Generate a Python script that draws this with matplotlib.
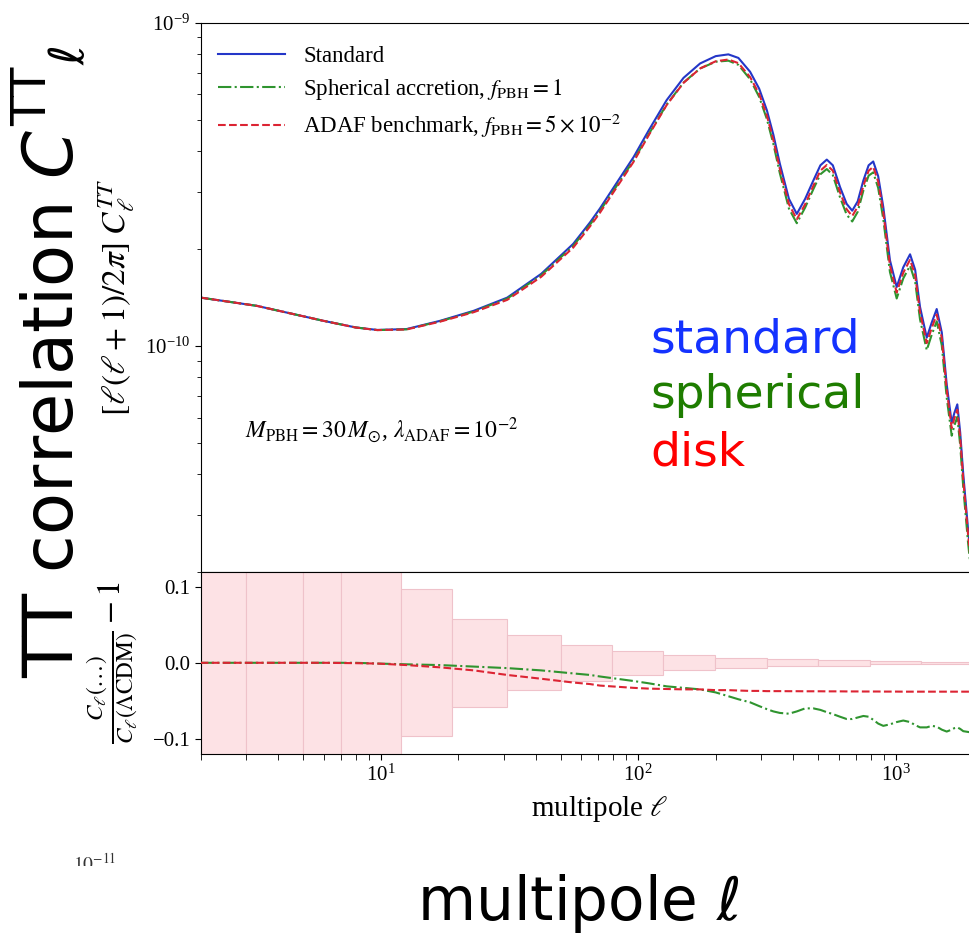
import numpy as np
import matplotlib
matplotlib.use("Agg")
import matplotlib.pyplot as plt
from matplotlib.ticker import FixedLocator, FuncFormatter
from matplotlib.patches import Rectangle

plt.rcParams["font.family"] = ["Liberation Serif", "DejaVu Serif"]
plt.rcParams["mathtext.fontset"] = "stix"

# multipoles where the curves were read
ell = np.array([2, 3.3, 6, 8, 9.7, 12.6, 17, 23, 31, 42,
                56, 65, 71, 96, 110, 129, 150, 174, 200, 224,
                245, 272, 295, 316, 335, 355, 385, 413, 445, 479,
                510, 540, 570, 608, 645, 678, 712, 749, 785, 818,
                855, 895, 950, 1009, 1070, 1137, 1190, 1243, 1320, 1380,
                1443, 1510, 1578, 1650, 1690, 1735, 1780, 1830, 1909, 2000,
                2100, 2500])

# standard l(l+1)C_l/2pi, in units of 1e-10
dl_standard = np.array([1.41, 1.33, 1.195, 1.14, 1.12, 1.127, 1.195, 1.284, 1.41, 1.67,
                        2.07, 2.41, 2.66, 3.84, 4.65, 5.76, 6.75, 7.48, 7.88, 7.98,
                        7.78, 7.05, 6.25, 5.36, 4.50, 3.66, 2.85, 2.56, 2.85, 3.25,
                        3.62, 3.77, 3.62, 3.10, 2.75, 2.62, 2.80, 3.25, 3.62, 3.72,
                        3.35, 2.69, 1.84, 1.52, 1.75, 1.92, 1.72, 1.32, 1.06, 1.18,
                        1.30, 1.10, 0.76, 0.578, 0.62, 0.659, 0.54, 0.40, 0.272, 0.19,
                        0.15, 0.07])

# C_l / C_l(LCDM) - 1
res_spherical = np.array([0, 0, 0, 0, -0.001, -0.002, -0.003, -0.005, -0.007, -0.010,
                          -0.014, -0.016, -0.018, -0.024, -0.027, -0.031, -0.033, -0.035, -0.039, -0.044,
                          -0.048, -0.052, -0.057, -0.061, -0.064, -0.066, -0.067, -0.064, -0.060, -0.060,
                          -0.062, -0.065, -0.0675, -0.071, -0.074, -0.074, -0.072, -0.070, -0.071, -0.075,
                          -0.080, -0.083, -0.081, -0.078, -0.076, -0.078, -0.082, -0.085, -0.085, -0.083,
                          -0.084, -0.088, -0.0905, -0.088, -0.086, -0.085, -0.087, -0.090, -0.091, -0.092,
                          -0.092, -0.093])

res_adaf = np.array([0, 0, 0, -0.0005, -0.001, -0.003, -0.006, -0.010, -0.016, -0.021,
                     -0.026, -0.028, -0.030, -0.033, -0.034, -0.0345, -0.035, -0.035, -0.036, -0.036,
                     -0.0365, -0.037, -0.037, -0.0373, -0.0373, -0.0373, -0.0374, -0.0374, -0.0375, -0.0375,
                     -0.0375, -0.0376, -0.0376, -0.0376, -0.0377, -0.0377, -0.0377, -0.0378, -0.0378, -0.0378,
                     -0.0378, -0.0379, -0.0379, -0.0379, -0.038, -0.038, -0.038, -0.038, -0.038, -0.038,
                     -0.038, -0.038, -0.038, -0.038, -0.038, -0.038, -0.038, -0.038, -0.038, -0.038,
                     -0.038, -0.038])

# binned cosmic variance band
bin_edges = np.array([2, 3, 5, 7, 12, 19, 31, 50, 79, 125, 199, 316, 501, 794, 1258, 1995, 2500])
bin_halfwidth = np.array([0.63, 0.36, 0.24, 0.17, 0.097, 0.058, 0.036, 0.024,
                          0.016, 0.010, 0.0068, 0.0047, 0.0037, 0.0022, 0.0015, 0.0012])

legend_labels = ["Standard",
                 r"Spherical accretion, $f_{\rm PBH} = 1$",
                 r"ADAF benchmark, $f_{\rm PBH} = 5\times10^{-2}$"]

BLUE = "#2436c8"
GREEN = "#2f942f"
RED = "#dc2433"

cl_std = dl_standard * 1e-10
cl_sph = cl_std * (1 + res_spherical)
cl_adaf = cl_std * (1 + res_adaf)

fig = plt.figure(figsize=(9.69, 9.38), dpi=100)
ax1 = fig.add_axes([0.2071, 0.3905, 0.823, 0.5853])
ax2 = fig.add_axes([0.2071, 0.1962, 0.823, 0.1944], sharex=ax1)

# upper panel
ax1.plot(ell, cl_std, color=BLUE, lw=1.5, label=legend_labels[0])
ax1.plot(ell, cl_sph, color=GREEN, lw=1.5, ls="-.", label=legend_labels[1])
ax1.plot(ell, cl_adaf, color=RED, lw=1.5, ls="--", label=legend_labels[2])
ax1.set_xscale("log")
ax1.set_yscale("log")
ax1.set_xlim(2, 2500)
ax1.set_ylim(2e-11, 1e-9)
ax1.set_ylabel(r"$[\ell(\ell+1)/2\pi]\;C_\ell^{TT}$", fontsize=24, labelpad=6)
ax1.tick_params(axis="x", which="both", bottom=False, labelbottom=False)
ax1.tick_params(axis="y", which="both", direction="out", labelsize=15)
ax1.tick_params(axis="y", which="major", length=4)
ax1.tick_params(axis="y", which="minor", length=3)
ax1.legend(loc="upper left", bbox_to_anchor=(0.022, 0.957), frameon=False, fontsize=16.5,
           handlelength=2.9, handletextpad=0.8, labelspacing=0.42, borderpad=0, borderaxespad=0)
ax1.text(0.0555, 0.258, r"$M_{\rm PBH} = 30\,M_{\odot}$, $\lambda_{\rm ADAF} = 10^{-2}$",
         transform=ax1.transAxes, fontsize=17, va="center", ha="left")

# lower panel
ax2.bar(bin_edges[:-1], 2 * bin_halfwidth, width=np.diff(bin_edges), bottom=-bin_halfwidth,
        align="edge", color="#fde2e5", edgecolor="#efc2ca", linewidth=0.8, zorder=1)
ax2.plot(ell, res_spherical, color=GREEN, lw=1.5, ls="-.", zorder=3)
ax2.plot(ell, res_adaf, color=RED, lw=1.5, ls="--", zorder=3)
ax2.set_ylim(-0.12, 0.12)
ax2.yaxis.set_major_locator(FixedLocator([-0.1, 0.0, 0.1]))
ax2.yaxis.set_major_formatter(FuncFormatter(lambda v, p: f"{v:.1f}".replace("-", "\u2212")))
ax2.tick_params(axis="both", which="both", direction="out", labelsize=15)
ax2.tick_params(axis="both", which="major", length=4)
ax2.tick_params(axis="both", which="minor", length=4)
ax2.set_xlabel(r"multipole $\ell$", fontsize=21, labelpad=6)
ax2.set_ylabel(r"$\frac{C_\ell(\ldots)}{C_\ell(\Lambda{\rm CDM})} - 1$", fontsize=24, labelpad=8)

# stray label left from the original figure, cut off at the bottom
fig.text(73 / 969, 1 - 853 / 938, r"$10^{-11}$", fontsize=14, va="top", ha="left", color="#333333")
fig.add_artist(Rectangle((0, 0), 0.4, 1 - 866 / 938, transform=fig.transFigure,
                         facecolor="white", edgecolor="none", zorder=5))

# hand-written annotations on top
fig.text(50 / 969, 1 - 362 / 938, r"TT correlation $C^{\rm TT}{}_{\ell}$", rotation=90,
         fontsize=49.5, family="DejaVu Sans", math_fontfamily="dejavusans",
         ha="center", va="center", color="black", zorder=6)
fig.text(578 / 969, 1 - 903 / 938, r"multipole $\ell$", fontsize=43,
         family="DejaVu Sans", math_fontfamily="dejavusans", ha="center", va="center", zorder=6)
fig.text(650 / 969, 1 - 352 / 938, "standard", fontsize=34, family="DejaVu Sans",
         color="#1432ff", va="baseline")
fig.text(650 / 969, 1 - 408 / 938, "spherical", fontsize=34, family="DejaVu Sans",
         color="#1e7d00", va="baseline")
fig.text(650 / 969, 1 - 465 / 938, "disk", fontsize=34, family="DejaVu Sans",
         color="#ff0000", va="baseline")

fig.savefig("out.png", dpi=100)
